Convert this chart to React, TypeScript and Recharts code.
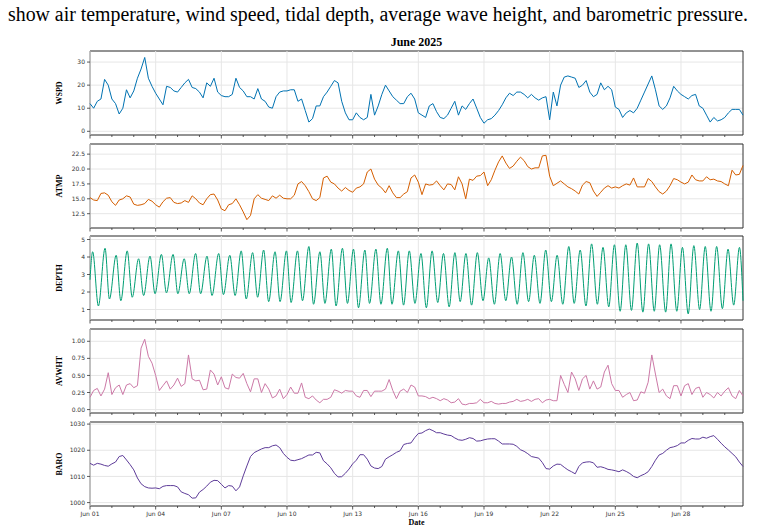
import { LineChart, Line, XAxis, YAxis, CartesianGrid, ReferenceArea, ReferenceLine } from "recharts";

// readings every 4 hours, starting Jun 01 00:00
const STEP_HOURS = 4;

const wspd = [
  12, 10, 13, 14, 22.5, 20, 14, 12, 7.5, 10,
  18, 14.5, 17.5, 23, 27, 32, 23, 19.5, 16.5, 14,
  11.5, 19.5, 19, 17.5, 17, 19, 21, 22.5, 19, 18.5,
  17, 14.5, 21, 19.5, 23, 17, 15.5, 15, 15, 16,
  23, 19, 17.5, 15, 15, 14, 18.5, 14, 13, 10.5,
  10, 15, 17, 17.5, 17.5, 18, 18, 13, 14, 9,
  4, 5.5, 11, 11, 15, 17, 19.5, 22, 21, 13,
  8, 5, 5, 8, 6, 5, 6, 16, 7, 11,
  16, 20, 17.5, 15, 13.5, 12, 12, 15, 16.5, 14,
  8, 7, 6, 11, 12, 8.5, 6, 5.5, 7, 10,
  13, 7, 11, 9.5, 12, 14, 10, 6, 3.5, 5,
  5.5, 7, 9, 11.5, 14.5, 16.5, 15.5, 17, 17, 16,
  14.5, 16, 14.5, 13.5, 14.5, 15, 5, 17, 11, 20,
  23.5, 24, 23.5, 23, 19, 20, 22, 17, 15, 16,
  21, 18, 19.5, 18, 10.5, 9.5, 6, 8, 9, 8,
  10, 13.5, 17, 20.5, 24, 18, 11, 9.5, 11, 14.5,
  19.5, 17.5, 16, 15, 14, 15.5, 16, 11, 10, 7,
  4, 6, 4.5, 5, 6, 8, 9.5, 9.5, 9.5, 7,
];

const atmp = [
  15.2, 14.8, 14.7, 15.9, 16, 15.6, 14.5, 13.9, 14.8, 15,
  15.5, 15.3, 14.1, 13.9, 14, 14.2, 14.9, 14.6, 14, 13.6,
  14.5, 15.1, 15.2, 14.4, 14.2, 14.3, 14.7, 14.4, 15.5, 15,
  14.3, 14, 15, 15.7, 15.8, 14.8, 13.3, 13, 14, 14.2,
  15, 14, 12.8, 11.5, 12.2, 15, 15.7, 15.1, 14.9, 14.7,
  15.5, 15.1, 15.6, 15.1, 15, 15, 15.6, 17.5, 17.9, 17.2,
  16.2, 15, 14.7, 15.2, 18.5, 18.8, 17.8, 17.5, 16.8, 16.3,
  16.9, 16.4, 16.1, 16.8, 17, 17.5, 19.5, 20, 18.3, 17.3,
  16.8, 16, 17.2, 16, 15.2, 15.2, 15.8, 16.2, 18.5, 19,
  17.8, 15.7, 17.5, 17.3, 17.4, 18, 17.2, 16.5, 17.5, 17.4,
  16.5, 18.7, 17.5, 15, 18.3, 18.1, 18.8, 18.9, 19.5, 17.2,
  18.2, 19.8, 21.2, 22.2, 21, 20.1, 20.5, 21.3, 22, 21.4,
  20.4, 20, 20.2, 20.2, 22.2, 22.3, 18.8, 17.2, 17.6, 18,
  17.5, 17, 16.7, 16.3, 15.8, 17.3, 17.9, 17.7, 16.3, 15.4,
  16.1, 16.8, 17.2, 16.8, 17, 16.8, 17.2, 17.5, 17.3, 18.5,
  17, 17, 17, 18.4, 17.9, 17, 16.2, 15.8, 16.3, 17.2,
  18.4, 18.2, 17.8, 17.5, 17.8, 19, 18.2, 18, 18, 18.7,
  18.2, 18.3, 18, 17.9, 17.5, 17.2, 19.8, 19, 19.1, 20.6,
];

const avwht = [
  0.18, 0.28, 0.31, 0.2, 0.3, 0.54, 0.22, 0.32, 0.36, 0.22,
  0.36, 0.38, 0.32, 0.35, 0.9, 1.03, 0.78, 0.68, 0.5, 0.28,
  0.35, 0.42, 0.3, 0.36, 0.46, 0.34, 0.38, 0.8, 0.45, 0.42,
  0.43, 0.29, 0.3, 0.58, 0.52, 0.36, 0.48, 0.32, 0.3, 0.52,
  0.47, 0.46, 0.53, 0.38, 0.26, 0.45, 0.45, 0.25, 0.38, 0.3,
  0.17, 0.2, 0.3, 0.16, 0.22, 0.33, 0.24, 0.24, 0.39, 0.18,
  0.16, 0.2, 0.14, 0.1, 0.15, 0.15, 0.18, 0.29, 0.27, 0.24,
  0.28, 0.27, 0.27, 0.2, 0.18, 0.28, 0.28, 0.19, 0.27, 0.27,
  0.27, 0.3, 0.44, 0.28, 0.16, 0.27, 0.3, 0.25, 0.36, 0.33,
  0.2, 0.2, 0.19, 0.16, 0.18, 0.16, 0.13, 0.16, 0.14, 0.1,
  0.11, 0.16, 0.08, 0.07, 0.09, 0.09, 0.1, 0.15, 0.1, 0.1,
  0.12, 0.09, 0.08, 0.09, 0.09, 0.11, 0.12, 0.15, 0.12, 0.13,
  0.15, 0.12, 0.15, 0.16, 0.1, 0.14, 0.15, 0.13, 0.13, 0.5,
  0.37, 0.25, 0.55, 0.45, 0.28, 0.45, 0.5, 0.3, 0.42, 0.3,
  0.33, 0.55, 0.65, 0.38, 0.28, 0.28, 0.18, 0.22, 0.25, 0.13,
  0.14, 0.26, 0.24, 0.4, 0.8, 0.52, 0.25, 0.3, 0.2, 0.16,
  0.35, 0.35, 0.2, 0.35, 0.38, 0.22, 0.31, 0.33, 0.18, 0.25,
  0.22, 0.17, 0.25, 0.2, 0.27, 0.32, 0.2, 0.16, 0.28, 0.2,
];

const baro = [
  1015, 1014.3, 1015, 1014.7, 1014.2, 1013.9, 1014.8, 1015.5, 1017.6, 1018,
  1016.3, 1014.5, 1012.5, 1009.4, 1007.2, 1006.1, 1005.6, 1005.5, 1005.6, 1005.3,
  1006.2, 1006.5, 1006.5, 1006.5, 1006, 1004.1, 1003.5, 1003, 1001.7, 1001.8,
  1004, 1005, 1006.3, 1007.8, 1008.5, 1008.4, 1007, 1005.6, 1006.5, 1006.3,
  1004.5, 1006, 1010.2, 1014, 1017.6, 1019.1, 1019.8, 1020.5, 1021, 1021,
  1021.7, 1022, 1021, 1018.8, 1017.3, 1016.2, 1016, 1016.4, 1016.8, 1017.5,
  1018.2, 1018.2, 1019.2, 1019, 1016, 1014.8, 1013.3, 1011.2, 1009.8, 1009.9,
  1011.2, 1012.8, 1014.8, 1016.2, 1018.3, 1018.3, 1016.6, 1014, 1013.2, 1013,
  1013.8, 1016.6, 1017.5, 1018.3, 1019.2, 1019.8, 1022.2, 1022.6, 1022.8, 1024.8,
  1026.4, 1026.6, 1027.5, 1028.1, 1027.5, 1026.7, 1026.7, 1026.2, 1025.8, 1025.6,
  1024.7, 1024, 1023.8, 1024.2, 1024.8, 1024.5, 1023.5, 1023.6, 1024, 1024.3,
  1024.4, 1024.4, 1023.5, 1022.4, 1022.4, 1022.4, 1022.3, 1021.5, 1020.2, 1019.6,
  1018.7, 1017.6, 1017.3, 1017, 1015.3, 1013, 1012.8, 1014, 1014.7, 1014.6,
  1013.5, 1012.5, 1011.8, 1011, 1013.8, 1015.2, 1015.5, 1015.6, 1015.2, 1013.5,
  1013.7, 1013.3, 1012.7, 1012.5, 1012.2, 1011.8, 1012.5, 1011.9, 1011.1, 1010,
  1009.5, 1010.3, 1010.9, 1011.8, 1013.8, 1016.2, 1018.2, 1018.8, 1020, 1021,
  1021.3, 1021.8, 1022.8, 1022.8, 1023.8, 1024.5, 1024.3, 1024.3, 1025, 1024.6,
  1025.2, 1025.6, 1024.2, 1022.7, 1021.3, 1020.1, 1018.8, 1017.5, 1015.5, 1013.8,
];

// tidal depth: [hour since Jun 01 00:00, metres] at each high / low water
const depthReadings: [number, number][] = [
  [0, 2.7], [2.9, 4.3], [9.2, 1.2], [16.5, 4.5], [21.3, 1.6], [28.7, 4.1],
  [33.8, 1.5], [40.8, 4.35], [46.3, 1.7], [53.3, 3.9], [58.8, 1.8], [65.8, 4.05],
  [71.3, 1.9], [78.3, 4.15], [83.8, 1.95], [91.1, 4.15], [96.3, 1.9], [103.3, 3.9],
  [108.8, 1.9], [115.8, 4.2], [121.3, 1.9], [128.3, 4.05], [133.8, 1.8], [141.1, 4.2],
  [146.3, 1.85], [153.3, 4.1], [159.1, 1.8], [165.8, 4.35], [171.3, 1.6], [178.3, 4.25],
  [183.8, 1.7], [190.4, 4.4], [195.9, 1.45], [202.9, 4.3], [208.4, 1.45], [215.4, 4.35],
  [220.5, 1.4], [227.5, 4.35], [233, 1.5], [240, 4.6], [245.1, 1.3], [252.1, 4.3],
  [257.6, 1.35], [264.6, 4.45], [269.8, 1.2], [276.8, 4.5], [282.3, 1.35], [288.9, 4.45],
  [294.4, 1.1], [301.4, 4.4], [306.5, 1.35], [313.5, 4.45], [319, 1.3], [326, 4.5],
  [331.1, 1.3], [338.1, 4.35], [343.8, 1.25], [350.1, 4.35], [356.3, 1.35], [362.9, 4.2],
  [368.8, 1.1], [375.1, 4.35], [381.3, 1.4], [387.6, 4.2], [393.8, 1.15], [400.1, 4.25],
  [405.9, 1.45], [412.2, 4.2], [418.4, 1.25], [424.7, 4.25], [430.9, 1.5], [437.2, 3.95],
  [443.4, 1.3], [449.7, 4.2], [455.9, 1.5], [462.2, 4.0], [468.4, 1.3], [474.7, 4.25],
  [480.9, 1.45], [487.2, 4.1], [493.4, 1.35], [499.7, 4.4], [505.9, 1.45], [512.2, 4.1],
  [518.4, 1.3], [525, 4.6], [530.9, 1.35], [537.5, 4.4], [543.8, 1.2], [550, 4.75],
  [556.3, 1.3], [562.5, 4.55], [568.8, 1.15], [575, 4.7], [581.3, 0.9], [587.5, 4.7],
  [593.7, 0.95], [600, 4.8], [606.2, 0.85], [612.5, 4.75], [618.7, 0.9], [624.6, 4.7],
  [631.2, 0.85], [637.1, 4.75], [643.4, 0.9], [649.6, 4.55], [655.9, 0.75], [662.1, 4.65],
  [668.4, 1.0], [674.6, 4.6], [680.9, 0.9], [687.1, 4.6], [693.4, 1.05], [699.6, 4.45],
  [705.8, 1.25], [712.1, 4.55], [716, 1.5],
];

const dateLabels = ["Jun 01", "Jun 04", "Jun 07", "Jun 10", "Jun 13", "Jun 16", "Jun 19", "Jun 22", "Jun 25", "Jun 28"];
const END_HOUR = 716;

const wspdTicks = [0, 10, 20, 30];
const atmpTicks = [12.5, 15, 17.5, 20, 22.5];
const depthTicks = [1, 2, 3, 4, 5];
const avwhtTicks = [0, 0.25, 0.5, 0.75, 1];
const baroTicks = [1000, 1010, 1020, 1030];

const rows = wspd.map((v, i) => ({
  t: i * STEP_HOURS,
  wspd: v,
  atmp: atmp[i],
  avwht: avwht[i],
  baro: baro[i],
}));
const depthRows = depthReadings.map(([t, v]) => ({ t, depth: v }));

const dayTicks = dateLabels.flatMap((_, k) => [k * 72, k * 72 + 24, k * 72 + 48]);
const majorTicks = dateLabels.map((_, k) => k * 72);

const W = 759;
const PANEL_H = 84;
const AXIS_H = 16;
const PAD_TOP = 6; // room for the top tick label
const INK = "#333";
const GRID = "#e6e6e6";

type PanelProps = {
  top: number;
  data: any[];
  dataKey: string;
  color: string;
  domain: [number, number];
  ticks: number[];
  fmt: (v: number) => string;
  curve?: "linear" | "monotone";
  showDates?: boolean;
};

function DateTick(props: any) {
  const { x, y, payload, showDates } = props;
  const major = payload.value % 72 === 0;
  return (
    <g>
      <line x1={x} x2={x} y1={y} y2={y + (major ? 3.5 : 2)} stroke={INK} strokeWidth={0.8} />
      {showDates && major ? (
        <text x={x} y={y + 9.5} textAnchor="middle" fontSize={6} fill={INK} fontFamily="DejaVu Sans">
          {dateLabels[payload.value / 72]}
        </text>
      ) : null}
    </g>
  );
}

function Panel({ top, data, dataKey, color, domain, ticks, fmt, curve = "linear", showDates }: PanelProps) {
  return (
    <div style={{ position: "absolute", left: 0, top: top - PAD_TOP }}>
      <LineChart
        width={W}
        height={PANEL_H + AXIS_H + PAD_TOP}
        data={data}
        margin={{ top: PAD_TOP, right: 16, bottom: 0, left: 0 }}
      >
        <CartesianGrid vertical={false} stroke={GRID} strokeWidth={1} />
        {majorTicks.map((h) => (
          <ReferenceLine key={h} x={h} stroke={GRID} strokeWidth={1} />
        ))}
        <XAxis
          dataKey="t"
          type="number"
          domain={[0, END_HOUR]}
          ticks={dayTicks}
          interval={0}
          height={AXIS_H}
          axisLine={false}
          tickLine={false}
          tickSize={0}
          tickMargin={0}
          tick={(p: any) => <DateTick {...p} showDates={showDates} />}
        />
        <YAxis
          type="number"
          domain={domain}
          ticks={ticks}
          interval={0}
          width={90}
          axisLine={false}
          tickSize={3}
          tickMargin={2}
          tickLine={{ stroke: INK, strokeWidth: 0.8 }}
          tickFormatter={fmt}
          tick={{ fontSize: 6, fill: INK, fontFamily: "DejaVu Sans" }}
        />
        <Line
          type={curve}
          dataKey={dataKey}
          stroke={color}
          strokeWidth={1}
          dot={false}
          isAnimationActive={false}
        />
        <ReferenceArea
          x1={0}
          x2={END_HOUR}
          y1={domain[0]}
          y2={domain[1]}
          fill="none"
          fillOpacity={0}
          stroke={INK}
          strokeWidth={1}
        />
      </LineChart>
    </div>
  );
}

const panelTops = [51, 144, 236, 329, 422];
const yLabels = ["WSPD", "ATMP", "DEPTH", "AVWHT", "BARO"];

export default function App() {
  return (
    <div style={{ position: "absolute", left: 0, top: 0, width: W, height: 532, background: "#fff" }}>
      <Panel top={panelTops[0]} data={rows} dataKey="wspd" color="#0072B2" domain={[-1.6, 34.8]} ticks={wspdTicks} fmt={(v) => String(v)} />
      <Panel top={panelTops[1]} data={rows} dataKey="atmp" color="#D55E00" domain={[10.1, 24.2]} ticks={atmpTicks} fmt={(v) => v.toFixed(1)} />
      <Panel top={panelTops[2]} data={depthRows} dataKey="depth" color="#009E73" domain={[0.4, 5.2]} ticks={depthTicks} fmt={(v) => String(v)} curve="monotone" />
      <Panel top={panelTops[3]} data={rows} dataKey="avwht" color="#CC79A7" domain={[-0.05, 1.18]} ticks={avwhtTicks} fmt={(v) => v.toFixed(2)} />
      <Panel top={panelTops[4]} data={rows} dataKey="baro" color="#5E3C99" domain={[998.7, 1030.8]} ticks={baroTicks} fmt={(v) => String(v)} showDates />
      <svg width={W} height={532} style={{ position: "absolute", left: 0, top: 0, pointerEvents: "none" }}>
        <text x={8} y={21} fontSize={20} fontFamily="Liberation Serif" fill="#000" textLength={740} lengthAdjust="spacingAndGlyphs">
          show air temperature, wind speed, tidal depth, average wave height, and barometric pressure.
        </text>
        <text x={416.5} y={46} fontSize={12} fontWeight="bold" fontFamily="Liberation Serif" textAnchor="middle" fill="#000">
          June 2025
        </text>
        {yLabels.map((l, i) => {
          const cy = panelTops[i] + PANEL_H / 2;
          return (
            <text
              key={l}
              x={59}
              y={cy}
              transform={`rotate(-90 59 ${cy})`}
              textAnchor="middle"
              dominantBaseline="central"
              fontSize={8}
              fontWeight="bold"
              fontFamily="Liberation Serif"
              fill="#000"
            >
              {l}
            </text>
          );
        })}
        <text x={416.5} y={524.5} fontSize={8} fontWeight="bold" fontFamily="Liberation Serif" textAnchor="middle" fill="#000">
          Date
        </text>
      </svg>
    </div>
  );
}
